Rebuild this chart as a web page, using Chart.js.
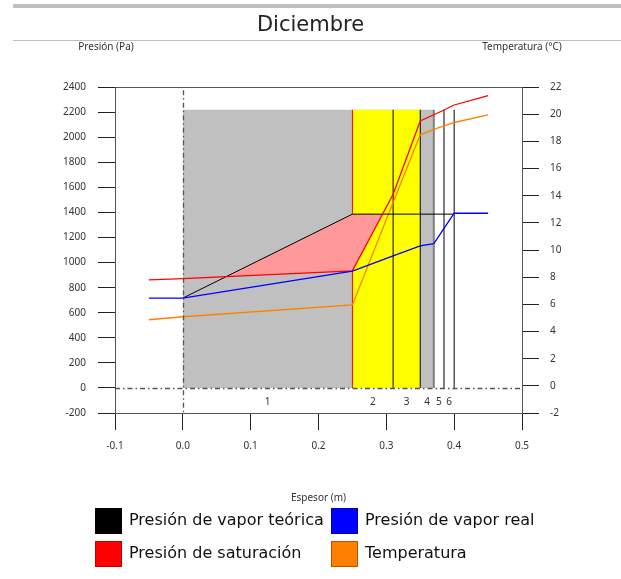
<!DOCTYPE html>
<html>
<head>
<meta charset="utf-8">
<script src="https://cdn.jsdelivr.net/npm/chart.js@4.4.1/dist/chart.umd.min.js"></script>
<style>
  html, body { margin: 0; padding: 0; background: #fff; }
  canvas { display: block; }
</style>
</head>
<body>
<canvas id="grafico" width="621" height="579"></canvas>
<script>
// Valores (espesor en m)
const espesor      = [-0.05, 0, 0.25, 0.31, 0.35, 0.37, 0.385, 0.40, 0.45];
const temperatura  = [4.87, 5.09, 5.97, 13.5, 18.49, 18.9, 19.15, 19.4, 19.96];
const presSat      = [863, 873, 934, 1546, 2131, 2180, 2218, 2258, 2333];

const espesorReal  = [-0.05, 0, 0.25, 0.31, 0.35, 0.37, 0.40, 0.45];
const presReal     = [717, 717, 932, 1054, 1134, 1152, 1394, 1394];

const espesorTeo   = [0, 0.25, 0.40];
const presTeo      = [717, 1387, 1387];

// Capas del cerramiento
const limitesCapas = [0, 0.25, 0.31, 0.35, 0.37, 0.385, 0.40];
const nombresCapas = ['1', '2', '3', '4', '5', '6'];
const alturaCapas  = 2220;
const zonaGris     = [0, 0.37];
const zonaAmarilla = [0.25, 0.35];
const coloresLimite = ['#ff0000', '#000000', '#000000', '#808080', '#000000', '#000000'];

const ticksPresion = { min: -200, max: 2400, step: 200 };
const ticksTemp    = { min: -2, max: 22, step: 2 };
const ticksEspesor = { min: -0.1, max: 0.5, step: 0.1 };

const leyenda = ['Presión de vapor teórica', 'Presión de vapor real', 'Presión de saturación', 'Temperatura'];
const leyendaRelleno = ['#000000', '#0000ff', '#ff0000', '#ff8000'];
const leyendaBorde   = ['#000000', '#0000b0', '#c00000', '#c05000'];

const pts = (xs, ys) => xs.map((x, i) => ({ x: x, y: ys[i] }));

Chart.defaults.font.family = "'Noto Sans', sans-serif";
Chart.defaults.font.size = 10;
Chart.defaults.color = '#333';

const lineaBase = { pointRadius: 0, pointHoverRadius: 0, tension: 0, borderWidth: 1.3, fill: false };

const datasets = [
  { ...lineaBase, label: leyenda[1], data: pts(espesorReal, presReal), borderColor: '#0000ff', yAxisID: 'y', order: 0 },
  { ...lineaBase, label: leyenda[2], data: pts(espesor, presSat), borderColor: '#ff0000', yAxisID: 'y', order: 0 },
  { ...lineaBase, label: leyenda[0], data: pts(espesorTeo, presTeo), borderColor: '#000000', borderWidth: 1, yAxisID: 'y', order: 0,
    fill: { target: 1, above: '#ff9999', below: 'rgba(0,0,0,0)' } },
  { ...lineaBase, label: leyenda[3], data: pts(espesor, temperatura), borderColor: '#ff8000', yAxisID: 'y1', order: 0 }
];

// limites verticales de capas
limitesCapas.slice(1).forEach((b, i) => {
  datasets.push({ ...lineaBase, label: 'limite' + i, data: [{ x: b, y: 0 }, { x: b, y: alturaCapas }],
    borderColor: coloresLimite[i], borderWidth: i === 3 ? 2 : 1, yAxisID: 'y', order: 1 });
});

// rellenos de capas
datasets.push({ ...lineaBase, label: 'amarilla', data: [{ x: zonaAmarilla[0], y: alturaCapas }, { x: zonaAmarilla[1], y: alturaCapas }],
  borderWidth: 0, borderColor: 'rgba(0,0,0,0)', backgroundColor: '#ffff00', fill: 'origin', yAxisID: 'y', order: 2 });
datasets.push({ ...lineaBase, label: 'gris', data: [{ x: zonaGris[0], y: alturaCapas }, { x: zonaGris[1], y: alturaCapas }],
  borderWidth: 0, borderColor: 'rgba(0,0,0,0)', backgroundColor: '#c0c0c0', fill: 'origin', yAxisID: 'y', order: 3 });

const decoracion = {
  id: 'decoracion',
  beforeDraw(chart) {
    const ctx = chart.ctx;
    ctx.save();
    ctx.fillStyle = '#c0c0c0';
    ctx.fillRect(13, 4, 608, 4);
    ctx.fillRect(13, 40, 608, 1);
    ctx.restore();
  },
  afterDatasetsDraw(chart) {
    const ctx = chart.ctx;
    const a = chart.chartArea;
    const sx = chart.scales.x, sy = chart.scales.y;
    ctx.save();
    // lineas de referencia discontinuas
    ctx.strokeStyle = '#555';
    ctx.lineWidth = 1.3;
    ctx.setLineDash([5, 3, 1.5, 3]);
    const y0 = Math.round(sy.getPixelForValue(0)) + 0.5;
    ctx.beginPath(); ctx.moveTo(a.left, y0); ctx.lineTo(a.right, y0); ctx.stroke();
    const x0 = Math.round(sx.getPixelForValue(0)) + 0.5;
    ctx.beginPath(); ctx.moveTo(x0, a.top + 3); ctx.lineTo(x0, a.bottom); ctx.stroke();
    ctx.setLineDash([]);
    // marco superior
    ctx.strokeStyle = '#555';
    ctx.lineWidth = 1;
    ctx.beginPath(); ctx.moveTo(a.left, Math.round(a.top) + 0.5); ctx.lineTo(a.right, Math.round(a.top) + 0.5); ctx.stroke();
    // numeros de capas
    ctx.fillStyle = '#333';
    ctx.font = "10px 'Noto Sans'";
    ctx.textAlign = 'center';
    ctx.textBaseline = 'middle';
    const yc = sy.getPixelForValue(-115);
    nombresCapas.forEach((n, i) => {
      const xc = sx.getPixelForValue((limitesCapas[i] + limitesCapas[i + 1]) / 2);
      ctx.fillText(n, xc, yc);
    });
    ctx.restore();
  },
  afterDraw(chart) {
    const ctx = chart.ctx;
    const a = chart.chartArea;
    ctx.save();
    ctx.fillStyle = '#333';
    ctx.font = "10px 'Noto Sans'";
    ctx.textAlign = 'center';
    ctx.textBaseline = 'middle';
    ctx.fillText('Presión (Pa)', a.left - 9, 47);
    ctx.fillText('Temperatura (°C)', a.right, 47);
    // leyenda en dos columnas
    const colX = [95, 331], filaY = [508, 541];
    ctx.font = "16px 'DejaVu Sans'";
    ctx.textAlign = 'left';
    leyenda.forEach((txt, i) => {
      const x = colX[i % 2], y = filaY[Math.floor(i / 2)];
      ctx.fillStyle = leyendaRelleno[i];
      ctx.fillRect(x, y, 27, 26);
      ctx.strokeStyle = leyendaBorde[i];
      ctx.lineWidth = 1;
      ctx.strokeRect(x + 0.5, y + 0.5, 26, 25);
      ctx.fillStyle = '#111';
      ctx.fillText(txt, x + 34, y + 13);
    });
    ctx.restore();
  }
};

new Chart(document.getElementById('grafico'), {
  type: 'line',
  data: { datasets: datasets },
  options: {
    responsive: false,
    animation: false,
    devicePixelRatio: 1,
    layout: { padding: 0 },
    plugins: {
      legend: { display: false },
      tooltip: { enabled: false },
      title: {
        display: true,
        text: 'Diciembre',
        color: '#222',
        font: { family: "'DejaVu Sans'", size: 21, weight: 'normal' },
        padding: { top: 13, bottom: 49 }
      }
    },
    scales: {
      x: {
        type: 'linear',
        min: ticksEspesor.min, max: ticksEspesor.max,
        ticks: { stepSize: ticksEspesor.step, padding: 10, color: '#333',
          callback: v => (Math.abs(v) < 1e-9 ? 0 : v).toFixed(1) },
        grid: { drawOnChartArea: false, tickLength: 17, color: '#222' },
        border: { color: '#555' },
        title: { display: true, text: 'Espesor (m)', color: '#333', padding: { top: 0, bottom: 75 } },
        afterFit: s => { s.height = 166; }
      },
      y: {
        type: 'linear', position: 'left',
        min: ticksPresion.min, max: ticksPresion.max,
        ticks: { stepSize: ticksPresion.step, padding: 12, callback: v => String(v), color: '#333' },
        grid: { drawOnChartArea: false, tickLength: 17, color: '#222' },
        border: { color: '#555' },
        afterFit: s => { s.width = 115; }
      },
      y1: {
        type: 'linear', position: 'right',
        min: ticksTemp.min, max: ticksTemp.max,
        ticks: { stepSize: ticksTemp.step, padding: 11, callback: v => String(v), color: '#333' },
        grid: { drawOnChartArea: false, tickLength: 17, color: '#222' },
        border: { color: '#555' },
        afterFit: s => { s.width = 99; }
      }
    }
  },
  plugins: [decoracion]
});
</script>
</body>
</html>
